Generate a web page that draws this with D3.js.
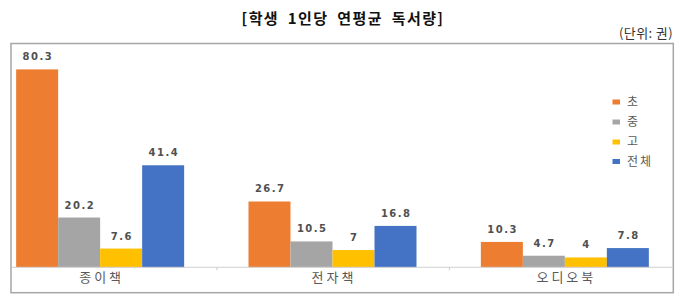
<!DOCTYPE html>
<html><head><meta charset="utf-8">
<script src="https://cdn.jsdelivr.net/npm/d3@7/dist/d3.min.js"></script>
<style>
html,body{margin:0;padding:0;background:#fff;}
svg{display:block;}
</style>
</head><body>
<script>
const categories = ["종이책", "전자책", "오디오북"];
const seriesNames = ["초", "중", "고", "전체"];
const seriesColors = ["#ED7D31", "#A5A5A5", "#FFC000", "#4472C4"];
const valuesCho = [80.3, 26.7, 10.3];
const valuesJung = [20.2, 10.5, 4.7];
const valuesGo = [7.6, 7, 4];
const valuesAll = [41.4, 16.8, 7.8];
const seriesValues = [valuesCho, valuesJung, valuesGo, valuesAll];
const titleText = "[학생 1인당 연평균 독서량]";
const unitText = "(단위: 권)";

const W = 700, H = 307;
const frame = {x0: 11, y0: 43.5, x1: 673.3, y1: 292.7};
const baseY = 267.3;

const svg = d3.select("body").append("svg").attr("width", W).attr("height", H);

// title
svg.append("text").attr("x", 343).attr("y", 24).attr("text-anchor", "middle")
  .attr("font-family", "'Noto Sans CJK KR', sans-serif").attr("font-weight", "bold")
  .attr("font-size", 15).attr("letter-spacing", 1.4).attr("word-spacing", 4)
  .attr("fill", "#111").text(titleText);

svg.append("text").attr("x", 673).attr("y", 38).attr("text-anchor", "end")
  .attr("font-family", "'Noto Sans CJK KR', serif").attr("font-size", 13)
  .attr("letter-spacing", 0.4)
  .attr("fill", "#333").text(unitText);

// frame
svg.append("rect").attr("x", frame.x0).attr("y", frame.y0)
  .attr("width", frame.x1 - frame.x0).attr("height", frame.y1 - frame.y0)
  .attr("fill", "none").attr("stroke", "#a6a6a6").attr("stroke-width", 1.5);

svg.append("defs").append("clipPath").attr("id", "clip").append("rect")
  .attr("x", frame.x0 + 1).attr("y", frame.y0 + 1)
  .attr("width", frame.x1 - frame.x0 - 2).attr("height", frame.y1 - frame.y0 - 2);

const g = svg.append("g").attr("clip-path", "url(#clip)");

const x0 = d3.scaleBand().domain(categories).range([-15.35, 681.7]).padding(0);
const x1 = d3.scaleBand().domain(seriesNames).range([31.5, 199.5]).padding(0);
const y = d3.scaleLinear().domain([0, 90]).range([baseY, baseY - 90 * 2.4645]);

// bars
const data = [];
categories.forEach((c, ci) => {
  seriesNames.forEach((s, si) => {
    data.push({c, s, si, v: seriesValues[si][ci]});
  });
});

g.selectAll("rect.bar").data(data).enter().append("rect").attr("class", "bar")
  .attr("x", d => x0(d.c) + x1(d.s))
  .attr("width", x1.bandwidth())
  .attr("y", d => y(d.v))
  .attr("height", d => y(0) - y(d.v))
  .attr("fill", d => seriesColors[d.si]);

// axis
const axis = d3.axisBottom(x0).tickSize(0).tickFormat("");
const ax = g.append("g").attr("transform", `translate(0,${baseY})`).call(axis);
ax.select(".domain").remove();
g.append("line").attr("x1", frame.x0).attr("x2", frame.x1).attr("y1", baseY).attr("y2", baseY)
  .attr("stroke", "#d0d0d0").attr("stroke-width", 1);
// boundary ticks
g.selectAll("line.tk").data(categories.slice(1)).enter().append("line").attr("class", "tk")
  .attr("x1", d => x0(d)).attr("x2", d => x0(d))
  .attr("y1", baseY).attr("y2", baseY + 3)
  .attr("stroke", "#c8c8c8").attr("stroke-width", 1);

// category labels
g.selectAll("text.cat").data(categories).enter().append("text").attr("class", "cat")
  .attr("x", d => x0(d) + x1.range()[0] + (x1.range()[1] - x1.range()[0]) / 2 + 1.5)
  .attr("y", 282)
  .attr("text-anchor", "middle")
  .attr("font-family", "'Noto Sans CJK KR', sans-serif").attr("font-size", 13)
  .attr("letter-spacing", 3)
  .attr("fill", "#595959").text(d => d);

// value labels
g.selectAll("text.val").data(data).enter().append("text").attr("class", "val")
  .attr("x", d => x0(d.c) + x1(d.s) + x1.bandwidth() / 2 + 0.75)
  .attr("y", d => y(d.v) - 9)
  .attr("text-anchor", "middle")
  .attr("font-family", "'DejaVu Sans', sans-serif").attr("font-weight", "bold")
  .attr("font-size", 10).attr("letter-spacing", 1.5)
  .attr("fill", "#505050").text(d => String(d.v));

// legend
const leg = svg.append("g");
const legY = [102, 122, 142, 161.5];
seriesNames.forEach((s, i) => {
  leg.append("rect").attr("x", 612.5).attr("y", legY[i] - 2.5).attr("width", 7.5).attr("height", 5)
    .attr("fill", seriesColors[i]);
  leg.append("text").attr("x", 627).attr("y", legY[i]).attr("dy", "0.36em")
    .attr("font-family", "'Noto Sans CJK KR', sans-serif").attr("font-size", 12)
    .attr("letter-spacing", 2)
    .attr("fill", "#595959").text(s);
});
</script>
</body></html>
